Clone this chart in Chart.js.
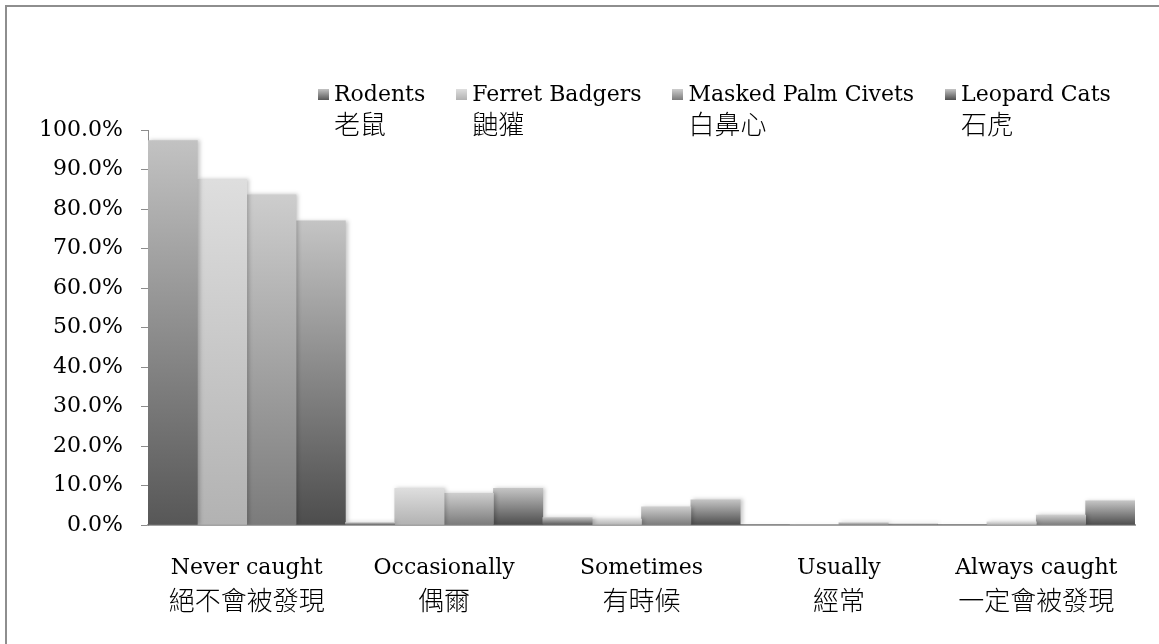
<!DOCTYPE html>
<html>
<head>
<meta charset="utf-8">
<script src="https://cdn.jsdelivr.net/npm/chart.js@4.4.1/dist/chart.umd.min.js"></script>
<style>
  html, body { margin: 0; padding: 0; background: #fff; overflow: hidden; }
  #wrap { position: relative; width: 1159px; height: 644px; }
  #frame {
    position: absolute; left: 5px; top: 5px; width: 1300px; height: 800px;
    border: 2px solid #8e8e8e; box-sizing: border-box; pointer-events: none;
  }
  #legend {
    position: absolute; left: 318px; top: 79px; display: flex; gap: 31px;
  }
  .item { display: flex; align-items: flex-start; }
  .box { width: 11px; height: 11px; margin-top: 10px; margin-right: 5px; }
  .en { font: 22px "DejaVu Serif", serif; line-height: 30px; color: #000; white-space: nowrap; }
  .zh { font: 26px "Noto Sans CJK TC", sans-serif; font-weight: 300; line-height: 28px; color: #000; }
</style>
</head>
<body>
<div id="wrap">
  <canvas id="chart" width="1159" height="644"></canvas>
  <div id="legend"></div>
  <div id="frame"></div>
</div>
<script>
const categoriesEn = ["Never caught", "Occasionally", "Sometimes", "Usually", "Always caught"];
const categoriesZh = ["絕不會被發現", "偶爾", "有時候", "經常", "一定會被發現"];

const seriesEn = ["Rodents", "Ferret Badgers", "Masked Palm Civets", "Leopard Cats"];
const seriesZh = ["老鼠", "鼬獾", "白鼻心", "石虎"];

const rodents = [97.3, 0.6, 1.9, 0, 0];
const ferretBadgers = [87.5, 9.3, 1.5, 0, 0.8];
const maskedPalmCivets = [83.6, 8.0, 4.6, 0.6, 2.5];
const leopardCats = [77.0, 9.3, 6.4, 0.3, 6.1];

// top / bottom colours of each bar gradient
const gradTop = ["#c2c2c2", "#dedede", "#cdcdcd", "#c4c4c4"];
const gradBottom = ["#575757", "#b2b2b2", "#7b7b7b", "#4d4d4d"];

function barGradient(i) {
  return (ctx) => {
    const chart = ctx.chart;
    const y = chart.scales.y;
    if (!y || typeof ctx.raw !== "number") return gradBottom[i];
    const y0 = y.getPixelForValue(0);
    const y1 = y.getPixelForValue(ctx.raw);
    if (!isFinite(y0) || !isFinite(y1) || y0 - y1 < 1) return gradBottom[i];
    const g = chart.ctx.createLinearGradient(0, y1, 0, y0);
    g.addColorStop(0, gradTop[i]);
    g.addColorStop(1, gradBottom[i]);
    return g;
  };
}

const allData = [rodents, ferretBadgers, maskedPalmCivets, leopardCats];

// html legend
const legendEl = document.getElementById("legend");
seriesEn.forEach((name, i) => {
  const item = document.createElement("div");
  item.className = "item";
  item.innerHTML =
    '<div class="box" style="background:linear-gradient(' + gradTop[i] + ',' + gradBottom[i] + ')"></div>' +
    '<div><div class="en">' + name + '</div><div class="zh">' + seriesZh[i] + "</div></div>";
  legendEl.appendChild(item);
});

const shadowPlugin = {
  id: "barShadow",
  beforeDatasetsDraw(chart) {
    const c = chart.ctx;
    c.save();
    c.shadowColor = "rgba(0,0,0,0.22)";
    c.shadowBlur = 4;
    c.shadowOffsetX = 2;
    c.shadowOffsetY = 0;
  },
  afterDatasetsDraw(chart) {
    chart.ctx.restore();
  },
};

const xLabelPlugin = {
  id: "xLabels",
  afterDraw(chart) {
    const c = chart.ctx;
    const xs = chart.scales.x;
    const base = chart.chartArea.bottom;
    c.save();
    c.fillStyle = "#000";
    c.textAlign = "center";
    c.textBaseline = "middle";
    categoriesEn.forEach((label, i) => {
      const x = xs.getPixelForValue(i);
      c.font = '22px "DejaVu Serif"';
      c.fillText(label, x, base + 43);
      c.font = '300 26px "Noto Sans CJK TC"';
      c.fillText(categoriesZh[i], x, base + 75);
    });
    c.restore();
  },
};

new Chart(document.getElementById("chart"), {
  type: "bar",
  data: {
    labels: categoriesEn,
    datasets: seriesEn.map((name, i) => ({
      label: name,
      data: allData[i],
      backgroundColor: barGradient(i),
      borderWidth: 0,
      barPercentage: 1,
      categoryPercentage: 1,
    })),
  },
  options: {
    responsive: false,
    animation: false,
    layout: { padding: { top: 130, right: 24, bottom: 0, left: 0 } },
    plugins: { legend: { display: false }, tooltip: { enabled: false } },
    scales: {
      x: {
        grid: { display: false },
        border: { display: true, color: "#a3a3a3", width: 2 },
        ticks: { display: false },
        afterFit(scale) { scale.height = 119; },
      },
      y: {
        min: 0,
        max: 100,
        ticks: {
          stepSize: 10,
          padding: 18,
          color: "#000",
          font: { family: "DejaVu Serif", size: 22 },
          callback: (v) => v.toFixed(1) + "%",
        },
        grid: { drawOnChartArea: false, tickLength: 7, color: "#8c8c8c" },
        border: { display: true, color: "#8c8c8c", width: 1 },
        afterFit(scale) { scale.width = 148; },
      },
    },
  },
  plugins: [shadowPlugin, xLabelPlugin],
});
</script>
</body>
</html>
